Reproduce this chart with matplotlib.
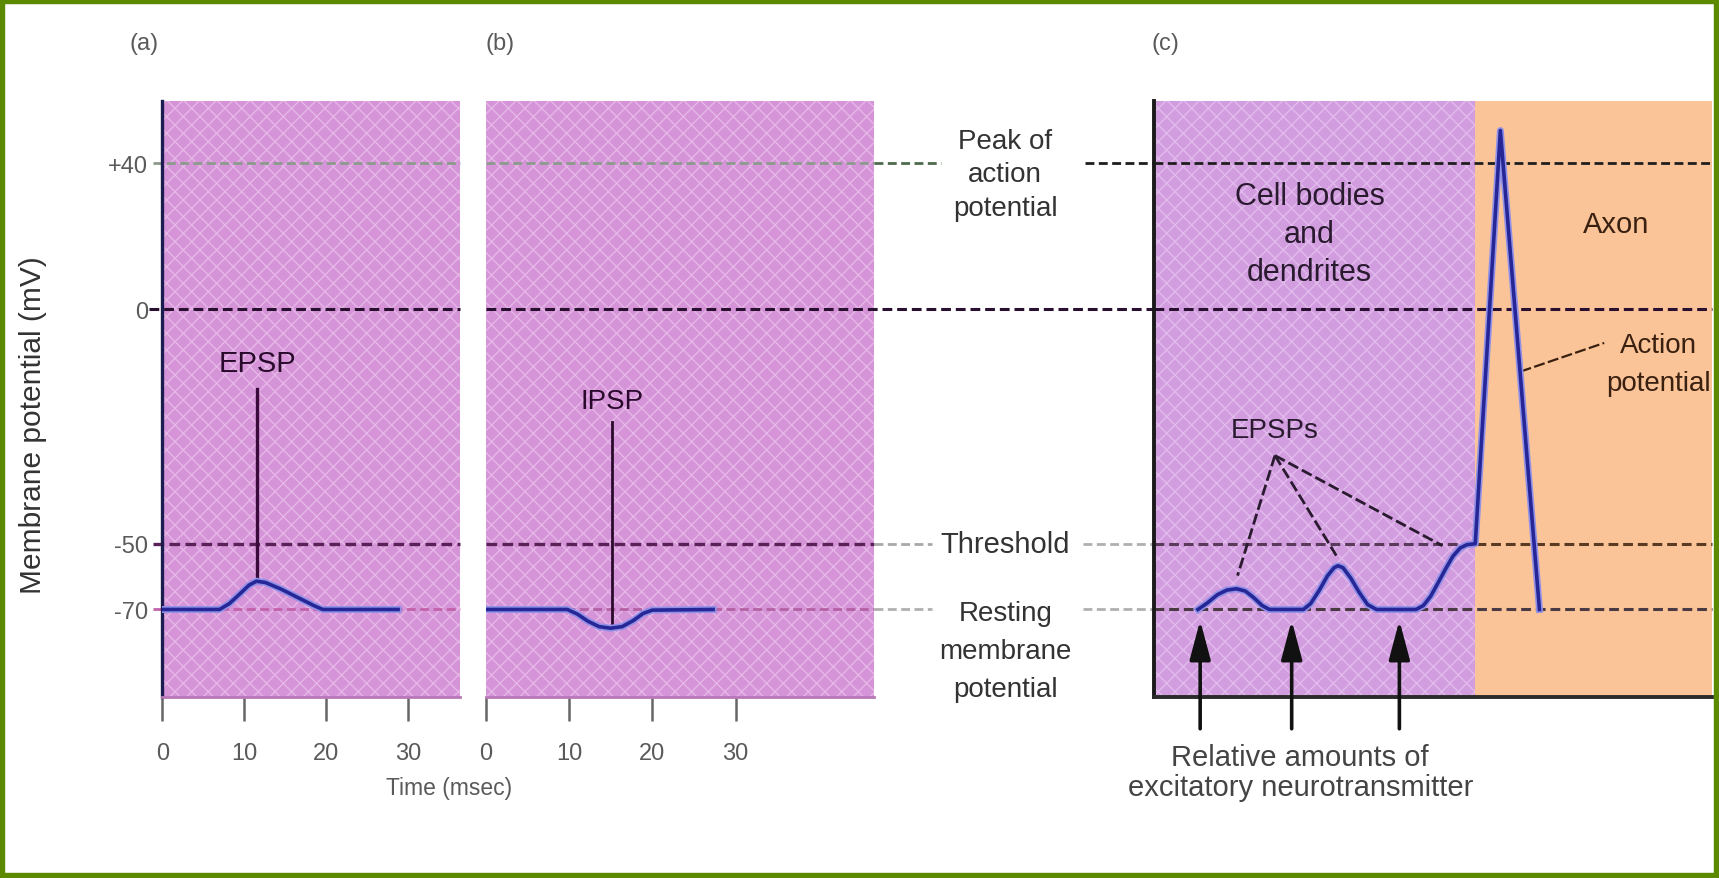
import numpy as np
import matplotlib
matplotlib.use("Agg")
import matplotlib.pyplot as plt
import matplotlib.transforms as mtransforms
import matplotlib.patheffects as pe
from matplotlib.lines import Line2D
from matplotlib.patches import Rectangle

# ---------------- data ----------------
MS_TICKS = [0, 10, 20, 30]
MS_LABELS = ["0", "10", "20", "30"]
MV_TICKS = [40, 0, -50, -70]
MV_LABELS = ["+40", "0", "-50", "-70"]

# (a) EPSP trace (ms, mV)
EPSP_T = [0, 7.0, 8.2, 9.5, 10.6, 11.5, 12.6, 14.5, 16.5, 18.5, 19.6, 28.8]
EPSP_V = [-70, -70, -68.2, -65.2, -62.6, -61.4, -61.8, -63.8, -66.3, -68.8, -70, -70]
EPSP_MARK_T = 11.6
EPSP_MARK_V = [-17, -61.4]

# (b) IPSP trace (ms, mV)
IPSP_T = [0, 9.8, 11.0, 12.3, 13.6, 15.0, 16.4, 17.7, 18.9, 20.0, 27.3]
IPSP_V = [-70, -70, -71.4, -73.6, -75.2, -75.7, -75.2, -73.4, -71.2, -70.2, -70]
IPSP_MARK_T = 15.2
IPSP_MARK_V = [-24, -74.5]

# (c) summation trace (arbitrary time units 0-100)
C_X = [7.8, 9.5, 11.3, 13.0, 14.7, 16.3, 17.8, 19.3, 20.6, 26.7, 28.0, 29.5,
       31.0, 32.2, 32.9, 33.8, 35.2, 36.7, 38.2, 39.8, 46.9, 48.2, 49.5, 50.8,
       52.2, 53.5, 54.8, 56.0, 57.5, 62.0, 69.0]
C_V = [-70, -68.0, -65.5, -64.1, -63.7, -64.4, -66.4, -68.8, -70, -70, -68.2, -64.3,
       -59.8, -57.3, -56.7, -57.3, -60.5, -64.8, -68.5, -70, -70, -68.8, -66.0, -62.0,
       -57.6, -53.8, -51.3, -50.3, -50, 49, -70]
AXON_START = 57.5
NT_PULSES = [8.2, 24.6, 43.9]
EPSP_LEADER_FROM = (21.6, -31.2)
EPSP_LEADER_TO_X = [14.9, 32.6, 51.6]
EPSP_LEADER_TO_V = [-59.7, -53.6, -50.6]
AP_LEADER_X = [65.6, 80.6]
AP_LEADER_V = [-13.3, -7.2]

# piecewise voltage axis of the textbook drawing (mV -> drawing height units)
SCALE_MV = [-70, -50, 0, 40]
SCALE_U = [80, 140, 354, 487]

# ---------------- style ----------------
PINK = "#d594d7"
PINK_HATCH = "#e6b6e8"
PINK_C = "#d29ddf"
PINK_C_HATCH = "#e2baec"
ORANGE = "#fac498"
TRACE = "#262696"
HALO = "#9090e8"
GREEN = "#5b8a00"
TXT = "#333333"
GREY_TXT = "#5a5a5a"

plt.rcParams["font.family"] = ["Liberation Sans", "DejaVu Sans"]
plt.rcParams["hatch.linewidth"] = 1.0

W0, H0 = 1568.0, 802.0


def fx(px):
    return px / W0


def fy(py):
    return 1 - py / H0


def fwd(v):
    v = np.asarray(v, dtype=float)
    u = np.interp(v, SCALE_MV, SCALE_U)
    u = np.where(v < SCALE_MV[0], SCALE_U[0] + (v - SCALE_MV[0]) * 3.0, u)
    u = np.where(v > SCALE_MV[-1], SCALE_U[-1] + (v - SCALE_MV[-1]) * 3.325, u)
    return u


def inv(u):
    u = np.asarray(u, dtype=float)
    v = np.interp(u, SCALE_U, SCALE_MV)
    v = np.where(u < SCALE_U[0], SCALE_MV[0] + (u - SCALE_U[0]) / 3.0, v)
    v = np.where(u > SCALE_U[-1], SCALE_MV[-1] + (u - SCALE_U[-1]) / 3.325, v)
    return v


fig = plt.figure(figsize=(17.19, 8.79), dpi=100)
fig.patch.set_facecolor("white")

TOP, BOT = 93, 637
YMIN = float(inv(0.0))
YMAX = float(inv(BOT - TOP))


def make_ax(x0, x1):
    ax = fig.add_axes([fx(x0), fy(BOT), fx(x1) - fx(x0), (BOT - TOP) / H0])
    ax.set_yscale("function", functions=(fwd, inv))
    ax.set_ylim(YMIN, YMAX)
    for s in ["top", "right"]:
        ax.spines[s].set_visible(False)
    return ax


ax_a = make_ax(148, 420)
ax_b = make_ax(443, 797)
ax_c = make_ax(1053, 1562)

ax_a.set_xlim(0, (420 - 148) / 74.7 * 10)
ax_b.set_xlim(0, (797 - 443) / 76.0 * 10)
ax_c.set_xlim(0, 100)

# backgrounds
for ax in (ax_a, ax_b):
    ax.set_facecolor(PINK)
    ax.add_patch(Rectangle((0, 0), 1, 1, transform=ax.transAxes, facecolor=PINK,
                           edgecolor=PINK_HATCH, lw=0, hatch="xx", zorder=0))
ax_c.set_facecolor(ORANGE)
ax_c.axvspan(0, AXON_START, facecolor=PINK_C, edgecolor=PINK_C_HATCH, lw=0,
             hatch="xx", zorder=0)
ax_c.axvspan(AXON_START, 100, facecolor=ORANGE, lw=0, zorder=0)


def hseg(ax, x0, x1, v, color, lw=2.0):
    tr = mtransforms.blended_transform_factory(fig.transFigure, ax.transData)
    ln = Line2D([fx(x0), fx(x1)], [v, v], transform=tr, color=color, lw=lw,
                linestyle=(0, (3.2, 1.6)), clip_on=False, zorder=1.5)
    ax.add_artist(ln)


# +40
hseg(ax_a, 140, 420, 40, "#8c9a8c")
hseg(ax_b, 443, 797, 40, "#8c9a8c")
hseg(ax_b, 797, 858, 40, "#4c6a4c")
hseg(ax_c, 990, 1053, 40, "#1e1e1e")
hseg(ax_c, 1053, 1562, 40, "#1e1e1e")
# 0
hseg(ax_a, 136, 420, 0, "#2a1030", 2.2)
hseg(ax_b, 443, 1053, 0, "#2a1030", 2.2)
hseg(ax_c, 1053, 1562, 0, "#2a1030", 2.2)
# -50
hseg(ax_a, 140, 420, -50, "#5a2058", 2.4)
hseg(ax_b, 443, 797, -50, "#5a2058", 2.4)
hseg(ax_b, 797, 850, -50, "#a8a8a8")
hseg(ax_c, 988, 1053, -50, "#b0b0b0")
hseg(ax_c, 1053, 1346, -50, "#5a3a5a", 2.2)
hseg(ax_c, 1346, 1562, -50, "#5a3a22", 2.2)
# -70
hseg(ax_a, 140, 420, -70, "#c262aa")
hseg(ax_b, 443, 797, -70, "#b462a4")
hseg(ax_b, 797, 850, -70, "#b0b0b0")
hseg(ax_c, 988, 1053, -70, "#b0b0b0")
hseg(ax_c, 1053, 1562, -70, "#4a3a44", 2.2)

halo = [pe.Stroke(linewidth=5.0, foreground=HALO), pe.Normal()]

# (a)
ax_a.plot(EPSP_T, EPSP_V, color=TRACE, lw=2.6, zorder=3, path_effects=halo,
          solid_joinstyle="round")
ax_a.plot([EPSP_MARK_T, EPSP_MARK_T], EPSP_MARK_V, color="#3a0a3c", lw=2.4, zorder=2.5)
ax_a.text(EPSP_MARK_T, -11.5, "EPSP", ha="center", va="center", fontsize=21,
          color="#2a0a2c", zorder=4)

# (b)
ax_b.plot(IPSP_T, IPSP_V, color=TRACE, lw=2.6, zorder=3, path_effects=halo,
          solid_joinstyle="round")
ax_b.plot([IPSP_MARK_T, IPSP_MARK_T], IPSP_MARK_V, color="#2a0a2c", lw=2.0, zorder=2.5)
ax_b.text(IPSP_MARK_T, -19.5, "IPSP", ha="center", va="center", fontsize=20,
          color="#2a0a2c", zorder=4)

# (c)
ax_c.plot(C_X, C_V, color=TRACE, lw=2.6, zorder=3, path_effects=halo,
          solid_joinstyle="round")
for xt, vt in zip(EPSP_LEADER_TO_X, EPSP_LEADER_TO_V):
    ax_c.plot([EPSP_LEADER_FROM[0], xt], [EPSP_LEADER_FROM[1], vt], color="#2a1a30",
              lw=2.0, linestyle=(0, (4, 1.5)), zorder=2.6)
ax_c.text(EPSP_LEADER_FROM[0], -25.7, "EPSPs", ha="center", va="center",
          fontsize=20, color="#2a1a30", zorder=4)
ax_c.plot(AP_LEADER_X, AP_LEADER_V, color="#3a2010", lw=1.6,
          linestyle=(0, (5, 1.5)), zorder=2.6)
ax_c.text(90.4, -11.7, "Action\npotential", ha="center", va="center", fontsize=20,
          color="#3a2010", linespacing=1.6, zorder=4)
ax_c.text(82.7, 23.5, "Axon", ha="center", va="center", fontsize=21,
          color="#3a2010", zorder=4)
ax_c.text(27.8, 20.7, "Cell bodies\nand\ndendrites", ha="center", va="center",
          fontsize=22, color="#2a1a30", linespacing=1.35, zorder=4)
for xp in NT_PULSES:
    ax_c.annotate("", xy=(xp, -73.3), xycoords="data",
                  xytext=(xp, -0.053), textcoords=("data", "axes fraction"),
                  arrowprops=dict(arrowstyle="-|>,head_length=1.2,head_width=0.32",
                                  color="#111111", lw=2.6, shrinkA=0, shrinkB=0,
                                  mutation_scale=20),
                  annotation_clip=False, zorder=5)

# spines and ticks
ax_a.spines["left"].set_color("#1c1c50")
ax_a.spines["left"].set_linewidth(2.4)
ax_a.spines["bottom"].set_color("#b878b8")
ax_a.spines["bottom"].set_linewidth(2.0)
ax_b.spines["left"].set_visible(False)
ax_b.spines["bottom"].set_color("#b878b8")
ax_b.spines["bottom"].set_linewidth(2.0)
ax_c.spines["left"].set_color("#1a1a1a")
ax_c.spines["left"].set_linewidth(2.8)
ax_c.spines["bottom"].set_color("#2a2a2a")
ax_c.spines["bottom"].set_linewidth(2.8)

for ax in (ax_a, ax_b):
    ax.set_xticks(MS_TICKS, MS_LABELS)
    ax.tick_params(axis="x", direction="out", length=17, width=1.8, color="#666666",
                   labelsize=17, labelcolor=GREY_TXT, pad=15)
ax_a.set_yticks(MV_TICKS, MV_LABELS)
ax_a.tick_params(axis="y", length=0, labelsize=17, labelcolor=GREY_TXT, pad=10)
ax_b.set_yticks([])
ax_c.set_xticks([])
ax_c.set_yticks([])
for ax in (ax_a, ax_b, ax_c):
    ax.yaxis.set_minor_locator(matplotlib.ticker.NullLocator())

# labels between (b) and (c)
trb = mtransforms.blended_transform_factory(fig.transFigure, ax_b.transData)
ax_b.text(fx(917), 37, "Peak of\naction\npotential", transform=trb, ha="center",
          va="center", fontsize=20, color=TXT, linespacing=1.38, clip_on=False)
ax_b.text(fx(917), -50, "Threshold", transform=trb, ha="center", va="center",
          fontsize=21, color=TXT, clip_on=False)
ax_b.text(fx(917), -82.7, "Resting\nmembrane\npotential", transform=trb, ha="center",
          va="center", fontsize=20, color=TXT, linespacing=1.6, clip_on=False)

# figure texts
fig.text(fx(30), fy(388), "Membrane potential (mV)", rotation=90, ha="center",
         va="center", fontsize=21.5, color=TXT)
fig.text(fx(410), fy(719), "Time (msec)", ha="center", va="center", fontsize=16.5,
         color=GREY_TXT)
fig.text(fx(1186), fy(705), "Relative amounts of\nexcitatory neurotransmitter",
         ha="center", va="center", fontsize=21, color="#444444", linespacing=1.1)
fig.text(fx(131), fy(40), "(a)", ha="center", va="center", fontsize=17, color=GREY_TXT)
fig.text(fx(456), fy(40), "(b)", ha="center", va="center", fontsize=17, color=GREY_TXT)
fig.text(fx(1063), fy(40), "(c)", ha="center", va="center", fontsize=17, color=GREY_TXT)

# green frame
fig.add_artist(Rectangle((0, 0), 1, 1, transform=fig.transFigure, fill=False,
                         edgecolor=GREEN, lw=7.5, zorder=10))

fig.savefig("out.png", dpi=100, facecolor="white")
